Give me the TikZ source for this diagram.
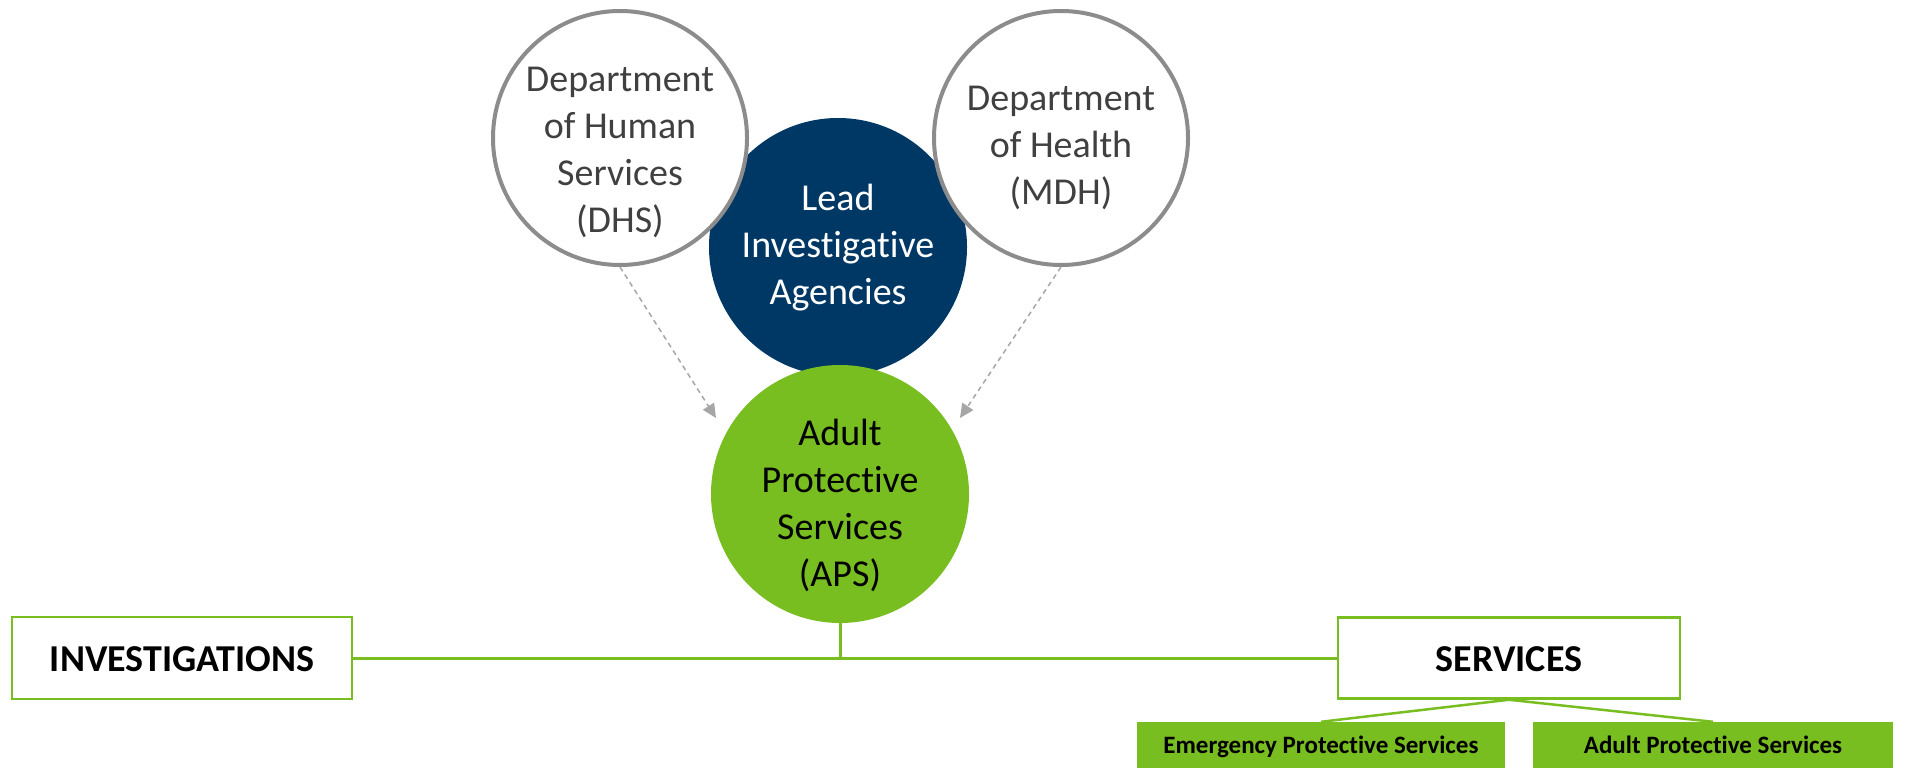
\documentclass[tikz,border=0pt]{standalone}
\usepackage{fontspec}
\setmainfont{Carlito}[RawFeature={-liga;-clig;-calt;-dlig}]
\usetikzlibrary{arrows.meta}

\definecolor{leadnavy}{HTML}{003865}
\definecolor{apsgreen}{HTML}{78BE21}
\definecolor{ringgray}{HTML}{8C8C8C}
\definecolor{ringtextgray}{HTML}{404040}
\definecolor{arrowgray}{HTML}{A6A6A6}

\begin{document}
\begin{tikzpicture}[x=1pt,y=-1pt,
    ring/.style={shape=circle, draw=ringgray, line width=4pt, fill=white, minimum size=254pt, inner sep=0pt},
    fullring/.style={shape=circle, minimum size=258pt, inner sep=0pt},
    ringtext/.style={align=center, inner sep=0pt, font=\fontsize{38}{47}\selectfont},
    outlinebox/.style={shape=rectangle, draw=apsgreen, line width=2.5pt, fill=white, inner sep=0pt,
        font=\bfseries\fontsize{38}{40}\selectfont, text height=26pt, text depth=0pt},
    greenbox/.style={shape=rectangle, fill=apsgreen, inner sep=0pt, minimum height=46pt,
        font=\bfseries\fontsize{25}{27}\selectfont, text height=16pt, text depth=0pt},
    link/.style={draw=apsgreen, line width=3pt},
    dasharrow/.style={draw=arrowgray, line width=1.5pt, dash pattern=on 5pt off 4pt,
        -{Triangle[length=14pt, width=13pt]}}]
    \useasboundingbox (0,0) rectangle (1908,768);

    % circles
    \node[fullring, fill=leadnavy] (lead) at (838,247) {};
    \node[ring] (dhs) at (620,138) {};
    \node[ring] (mdh) at (1061,138) {};
    \node[fullring, fill=apsgreen] (aps) at (840,494) {};

    \node[ringtext, text=ringtextgray] (dhstext) at (620,152) {Department\\of Human\\Services\\(DHS)};
    \node[ringtext, text=ringtextgray] (mdhtext) at (1061,148) {Department\\of Health\\(MDH)};
    \node[ringtext, text=white] (leadtext) at (838,248) {Lead\\Investigative\\Agencies};
    \node[ringtext, text=black] (apstext) at (840,505) {Adult\\Protective\\Services\\(APS)};

    % dashed arrows into APS
    \coordinate (dhstip) at (716,418);
    \coordinate (mdhtip) at (960,418);
    \draw[dasharrow] (dhs.south) -- (dhstip);
    \draw[dasharrow] (mdh.south) -- (mdhtip);

    % boxes
    \node[outlinebox, minimum width=340pt, minimum height=82pt] (inv) at (182,658) {INVESTIGATIONS};
    \node[outlinebox, minimum width=342pt, minimum height=81pt] (srv) at (1509,658) {SERVICES};
    \node[greenbox, minimum width=368pt] (eps) at (1321,745) {Emergency Protective Services};
    \node[greenbox, minimum width=360pt] (apsbox) at (1713,745) {Adult Protective Services};

    \coordinate (join) at (840,658);
    \draw[link] (inv.east) -- (srv.west);
    \draw[link] (aps.south) -- (join);
    \draw[link, line width=2.5pt] (srv.south) -- (eps.north);
    \draw[link, line width=2.5pt] (srv.south) -- (apsbox.north);
\end{tikzpicture}
\end{document}
